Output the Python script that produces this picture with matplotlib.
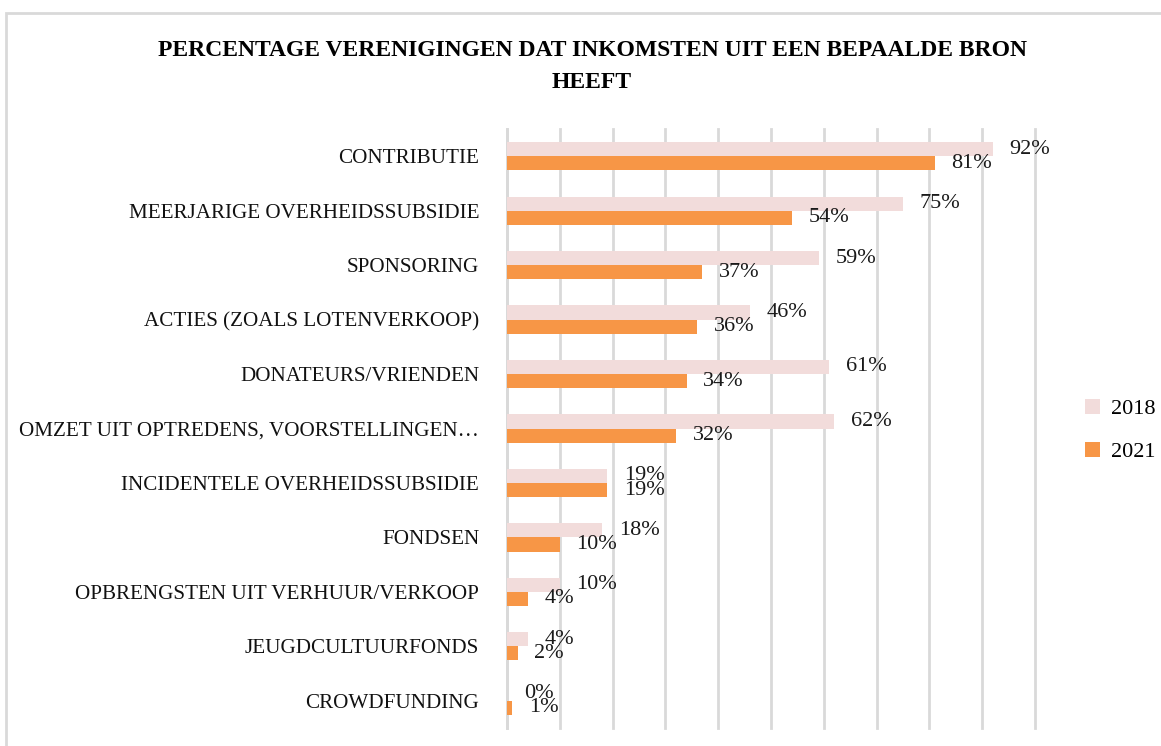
import matplotlib.pyplot as plt
import numpy as np

categories = ['CONTRIBUTIE', 'MEERJARIGE OVERHEIDSSUBSIDIE', 'SPONSORING',
              'ACTIES (ZOALS LOTENVERKOOP)', 'DONATEURS/VRIENDEN',
              'OMZET UIT OPTREDENS, VOORSTELLINGEN…',
              'INCIDENTELE OVERHEIDSSUBSIDIE', 'FONDSEN',
              'OPBRENGSTEN UIT VERHUUR/VERKOOP', 'JEUGDCULTUURFONDS',
              'CROWDFUNDING']
values_2018 = [92, 75, 59, 46, 61, 62, 19, 18, 10, 4, 0]
values_2021 = [81, 54, 37, 36, 34, 32, 19, 10, 4, 2, 1]

col_2018 = '#F2DCDB'
col_2021 = '#F79646'

plt.rcParams['font.family'] = ['Liberation Serif', 'DejaVu Serif']

fig = plt.figure(figsize=(11.61, 7.46), dpi=100)
ax = fig.add_axes([0.4367, 0.0241, 0.8915 - 0.4367, 0.8271 - 0.0241])

y = np.arange(len(categories))
h = 0.26
b1 = ax.barh(y - h / 2, values_2018, height=h, color=col_2018, label='2018', zorder=3)
b2 = ax.barh(y + h / 2, values_2021, height=h, color=col_2021, label='2021', zorder=3)

for bars, vals in [(b1, values_2018), (b2, values_2021)]:
    for bar, v in zip(bars, vals):
        ax.annotate('{}%'.format(v), (bar.get_width(), bar.get_y() + bar.get_height() / 2),
                    xytext=(12, 0), textcoords='offset points', va='center', ha='left',
                    fontsize=16, color='#1a1a1a')

ax.set_xlim(0, 100)
ax.set_ylim(len(categories) - 0.5, -0.5)
ax.set_yticks(y)
ax.set_yticklabels(categories, fontsize=15.2, color='#111111')
ax.set_xticks(np.arange(0, 101, 10))
ax.set_xticklabels([])
ax.tick_params(axis='both', length=0, pad=20)
ax.grid(axis='x', color='#D9D9D9', linewidth=2, zorder=0)
for line in ax.get_xgridlines():
    line.set_clip_on(False)
for s in ['top', 'right', 'bottom']:
    ax.spines[s].set_visible(False)
ax.spines['left'].set_color('#D9D9D9')
ax.spines['left'].set_linewidth(2)

fig.text(0.51, 0.911, 'PERCENTAGE VERENIGINGEN DAT INKOMSTEN UIT EEN BEPAALDE BRON\nHEEFT',
         ha='center', va='center', fontsize=17, fontweight='bold', linespacing=1.65)

ax.legend(loc='center left', bbox_to_anchor=(0.917, 0.423), bbox_transform=fig.transFigure,
          frameon=False, fontsize=16, handlelength=0.7, handleheight=0.7,
          handletextpad=0.5, labelspacing=1.0)

# light grey outer frame of the chart area
fig.add_artist(plt.Rectangle((0.005, -0.1), 1.2, 1.083, transform=fig.transFigure,
                             fill=False, edgecolor='#D9D9D9', linewidth=2))

fig.savefig('out.png', dpi=100)
